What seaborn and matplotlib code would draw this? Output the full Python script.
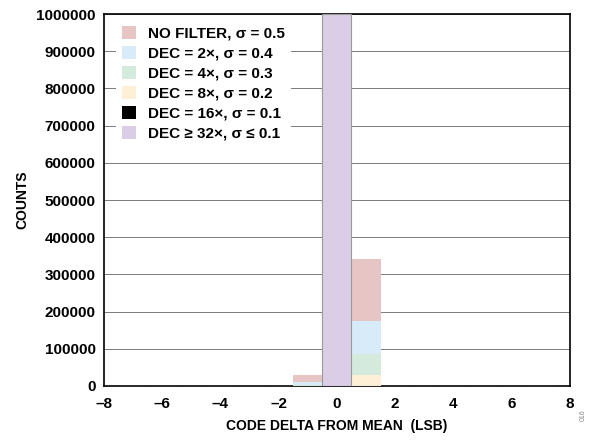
import numpy as np
import pandas as pd
import matplotlib
matplotlib.use("Agg")
import matplotlib.pyplot as plt
from matplotlib.patches import Patch
import seaborn as sns

# ---- data ----
bins = [-7, -6, -5, -4, -3, -2, -1, 0, 1, 2, 3, 4, 5, 6, 7]
series_names = ["NO FILTER, σ = 0.5", "DEC = 2×, σ = 0.4", "DEC = 4×, σ = 0.3",
                "DEC = 8×, σ = 0.2", "DEC = 16×, σ = 0.1", "DEC ≥ 32×, σ ≤ 0.1"]
no_filter = [0, 0, 0, 0, 0, 0, 30000, 630000, 340000, 0, 0, 0, 0, 0, 0]
dec2 =      [0, 0, 0, 0, 0, 0, 10000, 815000, 175000, 0, 0, 0, 0, 0, 0]
dec4 =      [0, 0, 0, 0, 0, 0, 3000, 912000, 85000, 0, 0, 0, 0, 0, 0]
dec8 =      [0, 0, 0, 0, 0, 0, 0, 970000, 30000, 0, 0, 0, 0, 0, 0]
dec16 =     [0, 0, 0, 0, 0, 0, 0, 1000000, 0, 0, 0, 0, 0, 0, 0]
dec32 =     [0, 0, 0, 0, 0, 0, 0, 1000000, 0, 0, 0, 0, 0, 0, 0]
colors = ["#E6C5C4", "#D7EBF9", "#D3EADD", "#FDF0D6", "#000000", "#DACEE6"]
xticks = [-8, -6, -4, -2, 0, 2, 4, 6, 8]
xtick_labels = ["–8", "–6", "–4", "–2", "0", "2", "4", "6", "8"]
yticks = list(range(0, 1000001, 100000))

sns.set_theme(style="white")
plt.rcParams['font.family'] = ['Liberation Sans', 'DejaVu Sans']
plt.rcParams['font.weight'] = 'bold'
plt.rcParams['text.color'] = 'black'
plt.rcParams['axes.labelcolor'] = 'black'
plt.rcParams['xtick.color'] = 'black'
plt.rcParams['ytick.color'] = 'black'

fig = plt.figure(figsize=(5.96, 4.42), dpi=100)
ax = fig.add_axes([0.1745, 0.127, 0.7815, 0.841])

all_series = [no_filter, dec2, dec4, dec8, dec16, dec32]
for name, vals, col in zip(series_names, all_series, colors):
    df = pd.DataFrame({"x": bins, "w": vals})
    last = (name == series_names[-1])
    sns.histplot(data=df, x="x", weights="w", discrete=True, ax=ax,
                 color=col, alpha=1, element="bars",
                 edgecolor="#9a9a9a" if last else "none",
                 linewidth=0.8 if last else 0, zorder=3)

ax.set_xlim(-8, 8)
ax.set_ylim(0, 1000000)
ax.set_xticks(xticks)
ax.set_xticklabels(xtick_labels)
ax.set_yticks(yticks)
ax.set_yticklabels([str(v) for v in yticks])
ax.yaxis.grid(True, color="#666666", linewidth=0.6, zorder=0)
ax.set_axisbelow(True)
ax.tick_params(axis="y", length=0, labelsize=11, pad=6)
ax.tick_params(axis="x", length=0, labelsize=11, pad=8)
for lab in ax.get_xticklabels() + ax.get_yticklabels():
    lab.set_fontweight("bold")
for s in ax.spines.values():
    s.set_visible(True)
    s.set_color("black")
    s.set_linewidth(1.2)

ax.set_xlabel("CODE DELTA FROM MEAN  (LSB)", fontsize=10, fontweight="bold", labelpad=6)
ax.set_ylabel("COUNTS", fontsize=10, fontweight="bold", labelpad=5)

handles = [Patch(facecolor=c, edgecolor="none") for c in colors]
leg = ax.legend(handles, series_names, loc="upper left", bbox_to_anchor=(0.01, 1.005),
                frameon=True, fancybox=False, framealpha=1, edgecolor="none",
                facecolor="white", handlelength=0.9, handleheight=0.9,
                handletextpad=0.75, labelspacing=0.35, borderpad=0.4,
                prop={"weight": "bold", "size": 11})
leg.set_zorder(5)

fig.text(0.978, 0.06, "016", rotation=90, fontsize=5, color="#888888",
         fontweight="normal", ha="center", va="center")

fig.savefig("out.png", dpi=100)
